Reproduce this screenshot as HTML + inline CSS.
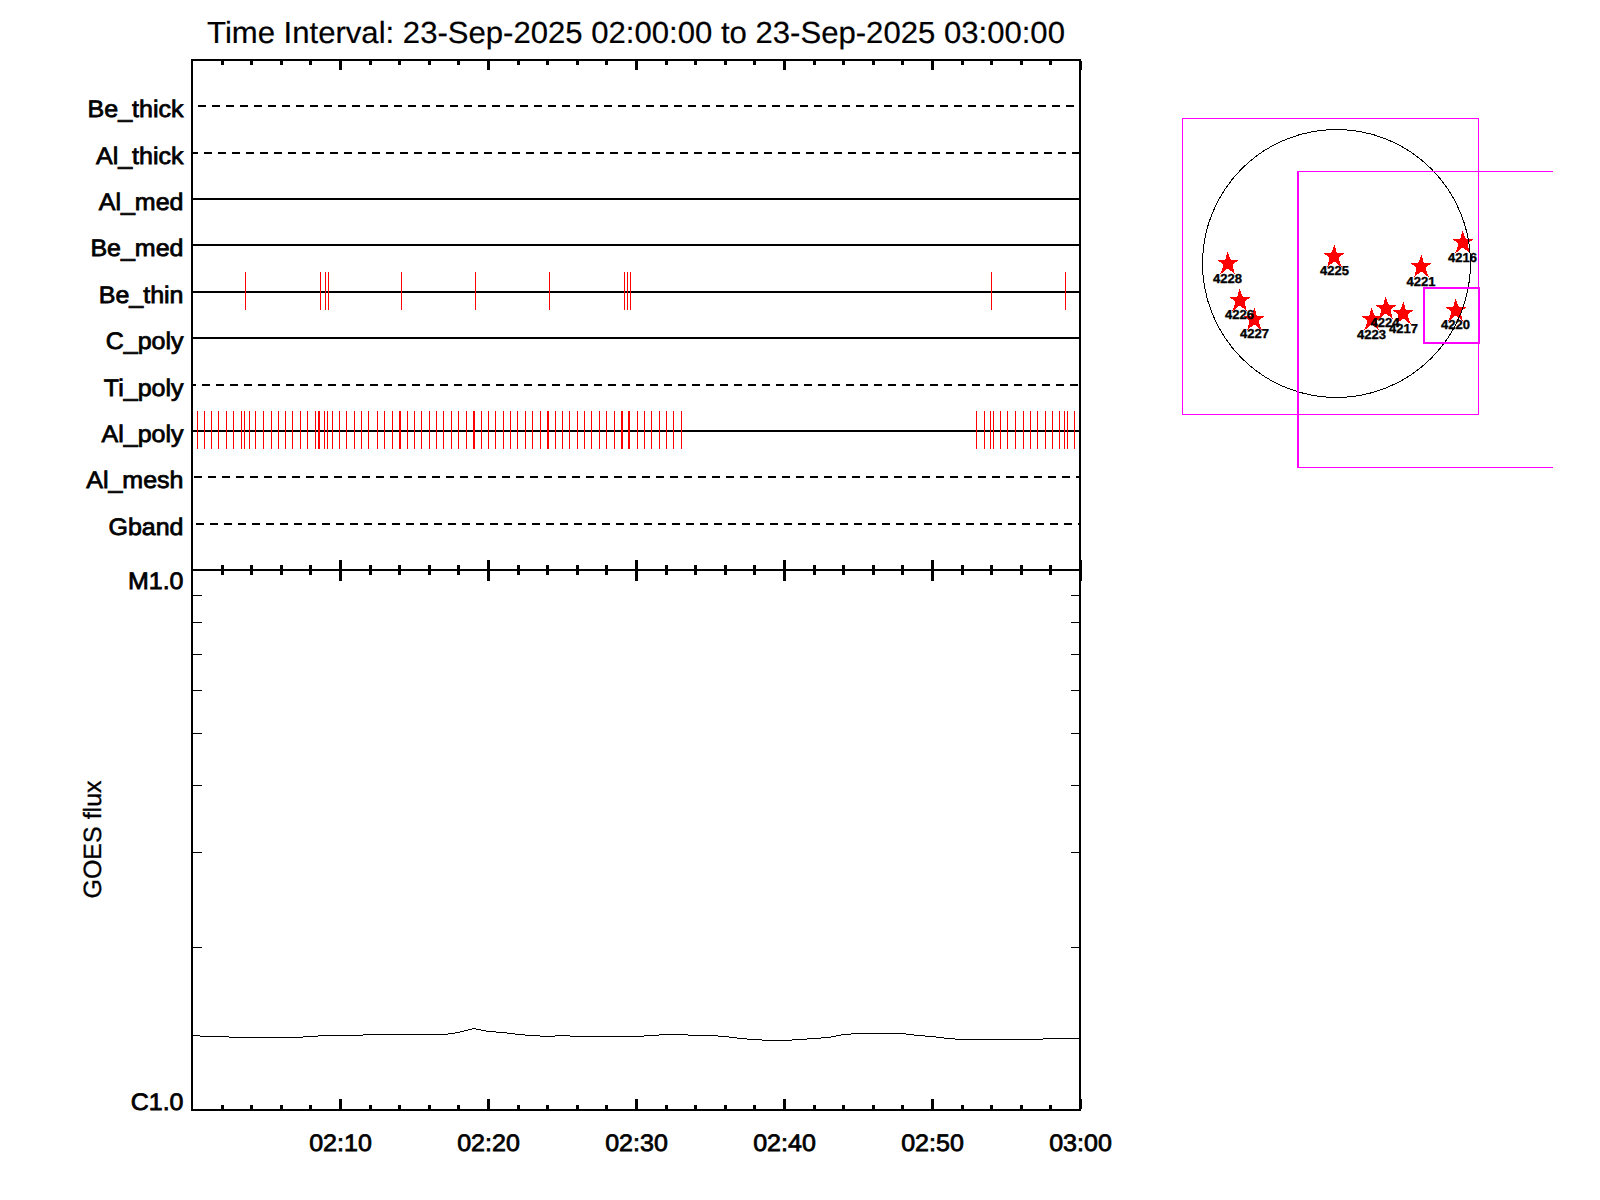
<!DOCTYPE html>
<html lang="en"><head><meta charset="utf-8"><title>Time Interval: 23-Sep-2025 02:00:00 to 23-Sep-2025 03:00:00</title>
<style>html,body{margin:0;padding:0;background:#fff}svg{display:block}text{font-family:"Liberation Sans",Arial,Helvetica,sans-serif;fill:#000;text-rendering:geometricPrecision}</style></head><body>
<svg width="1600" height="1200" viewBox="0 0 1600 1200">
<rect width="1600" height="1200" fill="#fff"/>
<g shape-rendering="crispEdges" fill="#000">
<rect x="191" y="59" width="2" height="1052"/>
<rect x="1079" y="59" width="2" height="1052"/>
<rect x="191" y="59" width="890" height="2"/>
<rect x="191" y="569" width="890" height="2"/>
<rect x="191" y="1109" width="890" height="2"/>
<rect x="221" y="61" width="3" height="4"/>
<rect x="221" y="565" width="3" height="10"/>
<rect x="221" y="1105" width="3" height="4"/>
<rect x="250" y="61" width="3" height="4"/>
<rect x="250" y="565" width="3" height="10"/>
<rect x="250" y="1105" width="3" height="4"/>
<rect x="280" y="61" width="3" height="4"/>
<rect x="280" y="565" width="3" height="10"/>
<rect x="280" y="1105" width="3" height="4"/>
<rect x="309" y="61" width="3" height="4"/>
<rect x="309" y="565" width="3" height="10"/>
<rect x="309" y="1105" width="3" height="4"/>
<rect x="339" y="61" width="3" height="9"/>
<rect x="339" y="560" width="3" height="21"/>
<rect x="339" y="1099" width="3" height="10"/>
<rect x="369" y="61" width="3" height="4"/>
<rect x="369" y="565" width="3" height="10"/>
<rect x="369" y="1105" width="3" height="4"/>
<rect x="398" y="61" width="3" height="4"/>
<rect x="398" y="565" width="3" height="10"/>
<rect x="398" y="1105" width="3" height="4"/>
<rect x="428" y="61" width="3" height="4"/>
<rect x="428" y="565" width="3" height="10"/>
<rect x="428" y="1105" width="3" height="4"/>
<rect x="457" y="61" width="3" height="4"/>
<rect x="457" y="565" width="3" height="10"/>
<rect x="457" y="1105" width="3" height="4"/>
<rect x="487" y="61" width="3" height="9"/>
<rect x="487" y="560" width="3" height="21"/>
<rect x="487" y="1099" width="3" height="10"/>
<rect x="517" y="61" width="3" height="4"/>
<rect x="517" y="565" width="3" height="10"/>
<rect x="517" y="1105" width="3" height="4"/>
<rect x="546" y="61" width="3" height="4"/>
<rect x="546" y="565" width="3" height="10"/>
<rect x="546" y="1105" width="3" height="4"/>
<rect x="576" y="61" width="3" height="4"/>
<rect x="576" y="565" width="3" height="10"/>
<rect x="576" y="1105" width="3" height="4"/>
<rect x="605" y="61" width="3" height="4"/>
<rect x="605" y="565" width="3" height="10"/>
<rect x="605" y="1105" width="3" height="4"/>
<rect x="635" y="61" width="3" height="9"/>
<rect x="635" y="560" width="3" height="21"/>
<rect x="635" y="1099" width="3" height="10"/>
<rect x="665" y="61" width="3" height="4"/>
<rect x="665" y="565" width="3" height="10"/>
<rect x="665" y="1105" width="3" height="4"/>
<rect x="694" y="61" width="3" height="4"/>
<rect x="694" y="565" width="3" height="10"/>
<rect x="694" y="1105" width="3" height="4"/>
<rect x="724" y="61" width="3" height="4"/>
<rect x="724" y="565" width="3" height="10"/>
<rect x="724" y="1105" width="3" height="4"/>
<rect x="753" y="61" width="3" height="4"/>
<rect x="753" y="565" width="3" height="10"/>
<rect x="753" y="1105" width="3" height="4"/>
<rect x="783" y="61" width="3" height="9"/>
<rect x="783" y="560" width="3" height="21"/>
<rect x="783" y="1099" width="3" height="10"/>
<rect x="813" y="61" width="3" height="4"/>
<rect x="813" y="565" width="3" height="10"/>
<rect x="813" y="1105" width="3" height="4"/>
<rect x="842" y="61" width="3" height="4"/>
<rect x="842" y="565" width="3" height="10"/>
<rect x="842" y="1105" width="3" height="4"/>
<rect x="872" y="61" width="3" height="4"/>
<rect x="872" y="565" width="3" height="10"/>
<rect x="872" y="1105" width="3" height="4"/>
<rect x="901" y="61" width="3" height="4"/>
<rect x="901" y="565" width="3" height="10"/>
<rect x="901" y="1105" width="3" height="4"/>
<rect x="931" y="61" width="3" height="9"/>
<rect x="931" y="560" width="3" height="21"/>
<rect x="931" y="1099" width="3" height="10"/>
<rect x="961" y="61" width="3" height="4"/>
<rect x="961" y="565" width="3" height="10"/>
<rect x="961" y="1105" width="3" height="4"/>
<rect x="990" y="61" width="3" height="4"/>
<rect x="990" y="565" width="3" height="10"/>
<rect x="990" y="1105" width="3" height="4"/>
<rect x="1020" y="61" width="3" height="4"/>
<rect x="1020" y="565" width="3" height="10"/>
<rect x="1020" y="1105" width="3" height="4"/>
<rect x="1049" y="61" width="3" height="4"/>
<rect x="1049" y="565" width="3" height="10"/>
<rect x="1049" y="1105" width="3" height="4"/>
<rect x="1079" y="61" width="3" height="9"/>
<rect x="1079" y="560" width="3" height="21"/>
<rect x="1079" y="1099" width="3" height="10"/>
<rect x="198" y="105" width="8" height="2"/>
<rect x="212" y="105" width="8" height="2"/>
<rect x="226" y="105" width="8" height="2"/>
<rect x="240" y="105" width="8" height="2"/>
<rect x="254" y="105" width="8" height="2"/>
<rect x="268" y="105" width="8" height="2"/>
<rect x="282" y="105" width="8" height="2"/>
<rect x="296" y="105" width="8" height="2"/>
<rect x="310" y="105" width="8" height="2"/>
<rect x="324" y="105" width="8" height="2"/>
<rect x="338" y="105" width="8" height="2"/>
<rect x="352" y="105" width="8" height="2"/>
<rect x="366" y="105" width="8" height="2"/>
<rect x="380" y="105" width="8" height="2"/>
<rect x="394" y="105" width="8" height="2"/>
<rect x="408" y="105" width="8" height="2"/>
<rect x="422" y="105" width="8" height="2"/>
<rect x="436" y="105" width="8" height="2"/>
<rect x="450" y="105" width="8" height="2"/>
<rect x="464" y="105" width="8" height="2"/>
<rect x="478" y="105" width="8" height="2"/>
<rect x="492" y="105" width="8" height="2"/>
<rect x="506" y="105" width="8" height="2"/>
<rect x="520" y="105" width="8" height="2"/>
<rect x="534" y="105" width="8" height="2"/>
<rect x="548" y="105" width="8" height="2"/>
<rect x="562" y="105" width="8" height="2"/>
<rect x="576" y="105" width="8" height="2"/>
<rect x="590" y="105" width="8" height="2"/>
<rect x="604" y="105" width="8" height="2"/>
<rect x="618" y="105" width="8" height="2"/>
<rect x="632" y="105" width="8" height="2"/>
<rect x="646" y="105" width="8" height="2"/>
<rect x="660" y="105" width="8" height="2"/>
<rect x="674" y="105" width="8" height="2"/>
<rect x="688" y="105" width="8" height="2"/>
<rect x="702" y="105" width="8" height="2"/>
<rect x="716" y="105" width="8" height="2"/>
<rect x="730" y="105" width="8" height="2"/>
<rect x="744" y="105" width="8" height="2"/>
<rect x="758" y="105" width="8" height="2"/>
<rect x="772" y="105" width="8" height="2"/>
<rect x="786" y="105" width="8" height="2"/>
<rect x="800" y="105" width="8" height="2"/>
<rect x="814" y="105" width="8" height="2"/>
<rect x="828" y="105" width="8" height="2"/>
<rect x="842" y="105" width="8" height="2"/>
<rect x="856" y="105" width="8" height="2"/>
<rect x="870" y="105" width="8" height="2"/>
<rect x="884" y="105" width="8" height="2"/>
<rect x="898" y="105" width="8" height="2"/>
<rect x="912" y="105" width="8" height="2"/>
<rect x="926" y="105" width="8" height="2"/>
<rect x="940" y="105" width="8" height="2"/>
<rect x="954" y="105" width="8" height="2"/>
<rect x="968" y="105" width="8" height="2"/>
<rect x="982" y="105" width="8" height="2"/>
<rect x="996" y="105" width="8" height="2"/>
<rect x="1010" y="105" width="8" height="2"/>
<rect x="1024" y="105" width="8" height="2"/>
<rect x="1038" y="105" width="8" height="2"/>
<rect x="1052" y="105" width="8" height="2"/>
<rect x="1066" y="105" width="8" height="2"/>
<rect x="193" y="152" width="5" height="2"/>
<rect x="204" y="152" width="8" height="2"/>
<rect x="218" y="152" width="8" height="2"/>
<rect x="232" y="152" width="8" height="2"/>
<rect x="246" y="152" width="8" height="2"/>
<rect x="260" y="152" width="8" height="2"/>
<rect x="274" y="152" width="8" height="2"/>
<rect x="288" y="152" width="8" height="2"/>
<rect x="302" y="152" width="8" height="2"/>
<rect x="316" y="152" width="8" height="2"/>
<rect x="330" y="152" width="8" height="2"/>
<rect x="344" y="152" width="8" height="2"/>
<rect x="358" y="152" width="8" height="2"/>
<rect x="372" y="152" width="8" height="2"/>
<rect x="386" y="152" width="8" height="2"/>
<rect x="400" y="152" width="8" height="2"/>
<rect x="414" y="152" width="8" height="2"/>
<rect x="428" y="152" width="8" height="2"/>
<rect x="442" y="152" width="8" height="2"/>
<rect x="456" y="152" width="8" height="2"/>
<rect x="470" y="152" width="8" height="2"/>
<rect x="484" y="152" width="8" height="2"/>
<rect x="498" y="152" width="8" height="2"/>
<rect x="512" y="152" width="8" height="2"/>
<rect x="526" y="152" width="8" height="2"/>
<rect x="540" y="152" width="8" height="2"/>
<rect x="554" y="152" width="8" height="2"/>
<rect x="568" y="152" width="8" height="2"/>
<rect x="582" y="152" width="8" height="2"/>
<rect x="596" y="152" width="8" height="2"/>
<rect x="610" y="152" width="8" height="2"/>
<rect x="624" y="152" width="8" height="2"/>
<rect x="638" y="152" width="8" height="2"/>
<rect x="652" y="152" width="8" height="2"/>
<rect x="666" y="152" width="8" height="2"/>
<rect x="680" y="152" width="8" height="2"/>
<rect x="694" y="152" width="8" height="2"/>
<rect x="708" y="152" width="8" height="2"/>
<rect x="722" y="152" width="8" height="2"/>
<rect x="736" y="152" width="8" height="2"/>
<rect x="750" y="152" width="8" height="2"/>
<rect x="764" y="152" width="8" height="2"/>
<rect x="778" y="152" width="8" height="2"/>
<rect x="792" y="152" width="8" height="2"/>
<rect x="806" y="152" width="8" height="2"/>
<rect x="820" y="152" width="8" height="2"/>
<rect x="834" y="152" width="8" height="2"/>
<rect x="848" y="152" width="8" height="2"/>
<rect x="862" y="152" width="8" height="2"/>
<rect x="876" y="152" width="8" height="2"/>
<rect x="890" y="152" width="8" height="2"/>
<rect x="904" y="152" width="8" height="2"/>
<rect x="918" y="152" width="8" height="2"/>
<rect x="932" y="152" width="8" height="2"/>
<rect x="946" y="152" width="8" height="2"/>
<rect x="960" y="152" width="8" height="2"/>
<rect x="974" y="152" width="8" height="2"/>
<rect x="988" y="152" width="8" height="2"/>
<rect x="1002" y="152" width="8" height="2"/>
<rect x="1016" y="152" width="8" height="2"/>
<rect x="1030" y="152" width="8" height="2"/>
<rect x="1044" y="152" width="8" height="2"/>
<rect x="1058" y="152" width="8" height="2"/>
<rect x="1072" y="152" width="7" height="2"/>
<rect x="193" y="198" width="886" height="2"/>
<rect x="193" y="244" width="886" height="2"/>
<rect x="193" y="291" width="886" height="2"/>
<rect x="193" y="337" width="886" height="2"/>
<rect x="193" y="384" width="3" height="2"/>
<rect x="202" y="384" width="8" height="2"/>
<rect x="216" y="384" width="8" height="2"/>
<rect x="230" y="384" width="8" height="2"/>
<rect x="244" y="384" width="8" height="2"/>
<rect x="258" y="384" width="8" height="2"/>
<rect x="272" y="384" width="8" height="2"/>
<rect x="286" y="384" width="8" height="2"/>
<rect x="300" y="384" width="8" height="2"/>
<rect x="314" y="384" width="8" height="2"/>
<rect x="328" y="384" width="8" height="2"/>
<rect x="342" y="384" width="8" height="2"/>
<rect x="356" y="384" width="8" height="2"/>
<rect x="370" y="384" width="8" height="2"/>
<rect x="384" y="384" width="8" height="2"/>
<rect x="398" y="384" width="8" height="2"/>
<rect x="412" y="384" width="8" height="2"/>
<rect x="426" y="384" width="8" height="2"/>
<rect x="440" y="384" width="8" height="2"/>
<rect x="454" y="384" width="8" height="2"/>
<rect x="468" y="384" width="8" height="2"/>
<rect x="482" y="384" width="8" height="2"/>
<rect x="496" y="384" width="8" height="2"/>
<rect x="510" y="384" width="8" height="2"/>
<rect x="524" y="384" width="8" height="2"/>
<rect x="538" y="384" width="8" height="2"/>
<rect x="552" y="384" width="8" height="2"/>
<rect x="566" y="384" width="8" height="2"/>
<rect x="580" y="384" width="8" height="2"/>
<rect x="594" y="384" width="8" height="2"/>
<rect x="608" y="384" width="8" height="2"/>
<rect x="622" y="384" width="8" height="2"/>
<rect x="636" y="384" width="8" height="2"/>
<rect x="650" y="384" width="8" height="2"/>
<rect x="664" y="384" width="8" height="2"/>
<rect x="678" y="384" width="8" height="2"/>
<rect x="692" y="384" width="8" height="2"/>
<rect x="706" y="384" width="8" height="2"/>
<rect x="720" y="384" width="8" height="2"/>
<rect x="734" y="384" width="8" height="2"/>
<rect x="748" y="384" width="8" height="2"/>
<rect x="762" y="384" width="8" height="2"/>
<rect x="776" y="384" width="8" height="2"/>
<rect x="790" y="384" width="8" height="2"/>
<rect x="804" y="384" width="8" height="2"/>
<rect x="818" y="384" width="8" height="2"/>
<rect x="832" y="384" width="8" height="2"/>
<rect x="846" y="384" width="8" height="2"/>
<rect x="860" y="384" width="8" height="2"/>
<rect x="874" y="384" width="8" height="2"/>
<rect x="888" y="384" width="8" height="2"/>
<rect x="902" y="384" width="8" height="2"/>
<rect x="916" y="384" width="8" height="2"/>
<rect x="930" y="384" width="8" height="2"/>
<rect x="944" y="384" width="8" height="2"/>
<rect x="958" y="384" width="8" height="2"/>
<rect x="972" y="384" width="8" height="2"/>
<rect x="986" y="384" width="8" height="2"/>
<rect x="1000" y="384" width="8" height="2"/>
<rect x="1014" y="384" width="8" height="2"/>
<rect x="1028" y="384" width="8" height="2"/>
<rect x="1042" y="384" width="8" height="2"/>
<rect x="1056" y="384" width="8" height="2"/>
<rect x="1070" y="384" width="8" height="2"/>
<rect x="193" y="430" width="886" height="2"/>
<rect x="194" y="476" width="8" height="2"/>
<rect x="208" y="476" width="8" height="2"/>
<rect x="222" y="476" width="8" height="2"/>
<rect x="236" y="476" width="8" height="2"/>
<rect x="250" y="476" width="8" height="2"/>
<rect x="264" y="476" width="8" height="2"/>
<rect x="278" y="476" width="8" height="2"/>
<rect x="292" y="476" width="8" height="2"/>
<rect x="306" y="476" width="8" height="2"/>
<rect x="320" y="476" width="8" height="2"/>
<rect x="334" y="476" width="8" height="2"/>
<rect x="348" y="476" width="8" height="2"/>
<rect x="362" y="476" width="8" height="2"/>
<rect x="376" y="476" width="8" height="2"/>
<rect x="390" y="476" width="8" height="2"/>
<rect x="404" y="476" width="8" height="2"/>
<rect x="418" y="476" width="8" height="2"/>
<rect x="432" y="476" width="8" height="2"/>
<rect x="446" y="476" width="8" height="2"/>
<rect x="460" y="476" width="8" height="2"/>
<rect x="474" y="476" width="8" height="2"/>
<rect x="488" y="476" width="8" height="2"/>
<rect x="502" y="476" width="8" height="2"/>
<rect x="516" y="476" width="8" height="2"/>
<rect x="530" y="476" width="8" height="2"/>
<rect x="544" y="476" width="8" height="2"/>
<rect x="558" y="476" width="8" height="2"/>
<rect x="572" y="476" width="8" height="2"/>
<rect x="586" y="476" width="8" height="2"/>
<rect x="600" y="476" width="8" height="2"/>
<rect x="614" y="476" width="8" height="2"/>
<rect x="628" y="476" width="8" height="2"/>
<rect x="642" y="476" width="8" height="2"/>
<rect x="656" y="476" width="8" height="2"/>
<rect x="670" y="476" width="8" height="2"/>
<rect x="684" y="476" width="8" height="2"/>
<rect x="698" y="476" width="8" height="2"/>
<rect x="712" y="476" width="8" height="2"/>
<rect x="726" y="476" width="8" height="2"/>
<rect x="740" y="476" width="8" height="2"/>
<rect x="754" y="476" width="8" height="2"/>
<rect x="768" y="476" width="8" height="2"/>
<rect x="782" y="476" width="8" height="2"/>
<rect x="796" y="476" width="8" height="2"/>
<rect x="810" y="476" width="8" height="2"/>
<rect x="824" y="476" width="8" height="2"/>
<rect x="838" y="476" width="8" height="2"/>
<rect x="852" y="476" width="8" height="2"/>
<rect x="866" y="476" width="8" height="2"/>
<rect x="880" y="476" width="8" height="2"/>
<rect x="894" y="476" width="8" height="2"/>
<rect x="908" y="476" width="8" height="2"/>
<rect x="922" y="476" width="8" height="2"/>
<rect x="936" y="476" width="8" height="2"/>
<rect x="950" y="476" width="8" height="2"/>
<rect x="964" y="476" width="8" height="2"/>
<rect x="978" y="476" width="8" height="2"/>
<rect x="992" y="476" width="8" height="2"/>
<rect x="1006" y="476" width="8" height="2"/>
<rect x="1020" y="476" width="8" height="2"/>
<rect x="1034" y="476" width="8" height="2"/>
<rect x="1048" y="476" width="8" height="2"/>
<rect x="1062" y="476" width="8" height="2"/>
<rect x="1076" y="476" width="3" height="2"/>
<rect x="196" y="523" width="8" height="2"/>
<rect x="210" y="523" width="8" height="2"/>
<rect x="224" y="523" width="8" height="2"/>
<rect x="238" y="523" width="8" height="2"/>
<rect x="252" y="523" width="8" height="2"/>
<rect x="266" y="523" width="8" height="2"/>
<rect x="280" y="523" width="8" height="2"/>
<rect x="294" y="523" width="8" height="2"/>
<rect x="308" y="523" width="8" height="2"/>
<rect x="322" y="523" width="8" height="2"/>
<rect x="336" y="523" width="8" height="2"/>
<rect x="350" y="523" width="8" height="2"/>
<rect x="364" y="523" width="8" height="2"/>
<rect x="378" y="523" width="8" height="2"/>
<rect x="392" y="523" width="8" height="2"/>
<rect x="406" y="523" width="8" height="2"/>
<rect x="420" y="523" width="8" height="2"/>
<rect x="434" y="523" width="8" height="2"/>
<rect x="448" y="523" width="8" height="2"/>
<rect x="462" y="523" width="8" height="2"/>
<rect x="476" y="523" width="8" height="2"/>
<rect x="490" y="523" width="8" height="2"/>
<rect x="504" y="523" width="8" height="2"/>
<rect x="518" y="523" width="8" height="2"/>
<rect x="532" y="523" width="8" height="2"/>
<rect x="546" y="523" width="8" height="2"/>
<rect x="560" y="523" width="8" height="2"/>
<rect x="574" y="523" width="8" height="2"/>
<rect x="588" y="523" width="8" height="2"/>
<rect x="602" y="523" width="8" height="2"/>
<rect x="616" y="523" width="8" height="2"/>
<rect x="630" y="523" width="8" height="2"/>
<rect x="644" y="523" width="8" height="2"/>
<rect x="658" y="523" width="8" height="2"/>
<rect x="672" y="523" width="8" height="2"/>
<rect x="686" y="523" width="8" height="2"/>
<rect x="700" y="523" width="8" height="2"/>
<rect x="714" y="523" width="8" height="2"/>
<rect x="728" y="523" width="8" height="2"/>
<rect x="742" y="523" width="8" height="2"/>
<rect x="756" y="523" width="8" height="2"/>
<rect x="770" y="523" width="8" height="2"/>
<rect x="784" y="523" width="8" height="2"/>
<rect x="798" y="523" width="8" height="2"/>
<rect x="812" y="523" width="8" height="2"/>
<rect x="826" y="523" width="8" height="2"/>
<rect x="840" y="523" width="8" height="2"/>
<rect x="854" y="523" width="8" height="2"/>
<rect x="868" y="523" width="8" height="2"/>
<rect x="882" y="523" width="8" height="2"/>
<rect x="896" y="523" width="8" height="2"/>
<rect x="910" y="523" width="8" height="2"/>
<rect x="924" y="523" width="8" height="2"/>
<rect x="938" y="523" width="8" height="2"/>
<rect x="952" y="523" width="8" height="2"/>
<rect x="966" y="523" width="8" height="2"/>
<rect x="980" y="523" width="8" height="2"/>
<rect x="994" y="523" width="8" height="2"/>
<rect x="1008" y="523" width="8" height="2"/>
<rect x="1022" y="523" width="8" height="2"/>
<rect x="1036" y="523" width="8" height="2"/>
<rect x="1050" y="523" width="8" height="2"/>
<rect x="1064" y="523" width="8" height="2"/>
<rect x="1078" y="523" width="1" height="2"/>
<rect x="193" y="595" width="9" height="1"/>
<rect x="1071" y="595" width="8" height="1"/>
<rect x="193" y="622" width="9" height="1"/>
<rect x="1071" y="622" width="8" height="1"/>
<rect x="193" y="654" width="9" height="1"/>
<rect x="1071" y="654" width="8" height="1"/>
<rect x="193" y="690" width="9" height="1"/>
<rect x="1071" y="690" width="8" height="1"/>
<rect x="193" y="733" width="9" height="1"/>
<rect x="1071" y="733" width="8" height="1"/>
<rect x="193" y="785" width="9" height="1"/>
<rect x="1071" y="785" width="8" height="1"/>
<rect x="193" y="852" width="9" height="1"/>
<rect x="1071" y="852" width="8" height="1"/>
<rect x="193" y="947" width="9" height="1"/>
<rect x="1071" y="947" width="8" height="1"/>
</g>
<g shape-rendering="crispEdges" fill="#f00">
<rect x="245" y="272" width="1" height="38"/>
<rect x="320" y="272" width="1" height="38"/>
<rect x="325" y="272" width="1" height="38"/>
<rect x="328" y="272" width="1" height="38"/>
<rect x="401" y="272" width="1" height="38"/>
<rect x="475" y="272" width="1" height="38"/>
<rect x="549" y="272" width="1" height="38"/>
<rect x="624" y="272" width="1" height="38"/>
<rect x="627" y="272" width="1" height="38"/>
<rect x="630" y="272" width="1" height="38"/>
<rect x="991" y="272" width="1" height="38"/>
<rect x="1065" y="272" width="1" height="38"/>
<rect x="197" y="411" width="1" height="38"/>
<rect x="204" y="411" width="1" height="38"/>
<rect x="211" y="411" width="1" height="38"/>
<rect x="218" y="411" width="1" height="38"/>
<rect x="226" y="411" width="1" height="38"/>
<rect x="233" y="411" width="1" height="38"/>
<rect x="241" y="411" width="1" height="38"/>
<rect x="244" y="411" width="1" height="38"/>
<rect x="249" y="411" width="1" height="38"/>
<rect x="255" y="411" width="1" height="38"/>
<rect x="263" y="411" width="1" height="38"/>
<rect x="271" y="411" width="1" height="38"/>
<rect x="278" y="411" width="1" height="38"/>
<rect x="285" y="411" width="1" height="38"/>
<rect x="292" y="411" width="1" height="38"/>
<rect x="300" y="411" width="1" height="38"/>
<rect x="307" y="411" width="1" height="38"/>
<rect x="315" y="411" width="1" height="38"/>
<rect x="318" y="411" width="1" height="38"/>
<rect x="319" y="411" width="1" height="38"/>
<rect x="324" y="411" width="1" height="38"/>
<rect x="327" y="411" width="1" height="38"/>
<rect x="332" y="411" width="1" height="38"/>
<rect x="339" y="411" width="1" height="38"/>
<rect x="346" y="411" width="1" height="38"/>
<rect x="354" y="411" width="1" height="38"/>
<rect x="361" y="411" width="1" height="38"/>
<rect x="368" y="411" width="1" height="38"/>
<rect x="377" y="411" width="1" height="38"/>
<rect x="384" y="411" width="1" height="38"/>
<rect x="392" y="411" width="1" height="38"/>
<rect x="399" y="411" width="1" height="38"/>
<rect x="400" y="411" width="1" height="38"/>
<rect x="407" y="411" width="1" height="38"/>
<rect x="414" y="411" width="1" height="38"/>
<rect x="421" y="411" width="1" height="38"/>
<rect x="429" y="411" width="1" height="38"/>
<rect x="436" y="411" width="1" height="38"/>
<rect x="443" y="411" width="1" height="38"/>
<rect x="451" y="411" width="1" height="38"/>
<rect x="458" y="411" width="1" height="38"/>
<rect x="466" y="411" width="1" height="38"/>
<rect x="473" y="411" width="1" height="38"/>
<rect x="474" y="411" width="1" height="38"/>
<rect x="481" y="411" width="1" height="38"/>
<rect x="488" y="411" width="1" height="38"/>
<rect x="495" y="411" width="1" height="38"/>
<rect x="503" y="411" width="1" height="38"/>
<rect x="510" y="411" width="1" height="38"/>
<rect x="517" y="411" width="1" height="38"/>
<rect x="525" y="411" width="1" height="38"/>
<rect x="532" y="411" width="1" height="38"/>
<rect x="540" y="411" width="1" height="38"/>
<rect x="547" y="411" width="1" height="38"/>
<rect x="548" y="411" width="1" height="38"/>
<rect x="555" y="411" width="1" height="38"/>
<rect x="562" y="411" width="1" height="38"/>
<rect x="569" y="411" width="1" height="38"/>
<rect x="577" y="411" width="1" height="38"/>
<rect x="584" y="411" width="1" height="38"/>
<rect x="591" y="411" width="1" height="38"/>
<rect x="599" y="411" width="1" height="38"/>
<rect x="606" y="411" width="1" height="38"/>
<rect x="614" y="411" width="1" height="38"/>
<rect x="621" y="411" width="1" height="38"/>
<rect x="622" y="411" width="1" height="38"/>
<rect x="628" y="411" width="1" height="38"/>
<rect x="629" y="411" width="1" height="38"/>
<rect x="637" y="411" width="1" height="38"/>
<rect x="644" y="411" width="1" height="38"/>
<rect x="651" y="411" width="1" height="38"/>
<rect x="659" y="411" width="1" height="38"/>
<rect x="666" y="411" width="1" height="38"/>
<rect x="673" y="411" width="1" height="38"/>
<rect x="681" y="411" width="1" height="38"/>
<rect x="976" y="411" width="1" height="38"/>
<rect x="984" y="411" width="1" height="38"/>
<rect x="990" y="411" width="1" height="38"/>
<rect x="993" y="411" width="1" height="38"/>
<rect x="1000" y="411" width="1" height="38"/>
<rect x="1007" y="411" width="1" height="38"/>
<rect x="1015" y="411" width="1" height="38"/>
<rect x="1023" y="411" width="1" height="38"/>
<rect x="1030" y="411" width="1" height="38"/>
<rect x="1037" y="411" width="1" height="38"/>
<rect x="1045" y="411" width="1" height="38"/>
<rect x="1052" y="411" width="1" height="38"/>
<rect x="1059" y="411" width="1" height="38"/>
<rect x="1064" y="411" width="1" height="38"/>
<rect x="1067" y="411" width="1" height="38"/>
<rect x="1074" y="411" width="1" height="38"/>
</g>
<g shape-rendering="crispEdges" fill="#000">
<rect x="193" y="1035" width="7" height="1"/>
<rect x="200" y="1036" width="29" height="1"/>
<rect x="229" y="1037" width="74" height="1"/>
<rect x="303" y="1036" width="15" height="1"/>
<rect x="318" y="1035" width="45" height="1"/>
<rect x="363" y="1034" width="85" height="1"/>
<rect x="448" y="1033" width="7" height="1"/>
<rect x="455" y="1032" width="5" height="1"/>
<rect x="460" y="1031" width="4" height="1"/>
<rect x="464" y="1030" width="4" height="1"/>
<rect x="468" y="1029" width="4" height="1"/>
<rect x="472" y="1028" width="4" height="1"/>
<rect x="476" y="1029" width="5" height="1"/>
<rect x="481" y="1030" width="5" height="1"/>
<rect x="486" y="1031" width="10" height="1"/>
<rect x="496" y="1032" width="11" height="1"/>
<rect x="507" y="1033" width="8" height="1"/>
<rect x="515" y="1034" width="10" height="1"/>
<rect x="525" y="1035" width="15" height="1"/>
<rect x="540" y="1036" width="15" height="1"/>
<rect x="555" y="1035" width="15" height="1"/>
<rect x="570" y="1036" width="74" height="1"/>
<rect x="644" y="1035" width="15" height="1"/>
<rect x="659" y="1034" width="29" height="1"/>
<rect x="688" y="1035" width="30" height="1"/>
<rect x="718" y="1036" width="11" height="1"/>
<rect x="729" y="1037" width="8" height="1"/>
<rect x="737" y="1038" width="10" height="1"/>
<rect x="747" y="1039" width="15" height="1"/>
<rect x="762" y="1040" width="30" height="1"/>
<rect x="792" y="1039" width="15" height="1"/>
<rect x="807" y="1038" width="14" height="1"/>
<rect x="821" y="1037" width="10" height="1"/>
<rect x="831" y="1036" width="5" height="1"/>
<rect x="836" y="1035" width="5" height="1"/>
<rect x="841" y="1034" width="10" height="1"/>
<rect x="851" y="1033" width="55" height="1"/>
<rect x="906" y="1034" width="8" height="1"/>
<rect x="914" y="1035" width="11" height="1"/>
<rect x="925" y="1036" width="11" height="1"/>
<rect x="936" y="1037" width="8" height="1"/>
<rect x="944" y="1038" width="11" height="1"/>
<rect x="955" y="1039" width="88" height="1"/>
<rect x="1043" y="1038" width="36" height="1"/>
</g>
<g fill="#f00" shape-rendering="crispEdges">
<path transform="translate(1462,231)" d="M0 0h1v1h-1zM0 1h1v1h-1zM0 2h2v1h-2zM-1 3h3v1h-3zM-1 4h3v1h-3zM-1 5h4v1h-4zM-1 6h4v1h-4zM-2 7h6v1h-6zM-9 8h20v1h-20zM-8 9h18v1h-18zM-6 10h14v1h-14zM-5 11h12v1h-12zM-4 12h10v1h-10zM-4 13h10v1h-10zM-4 14h10v1h-10zM-4 15h10v1h-10zM-5 16h11v1h-11zM2 17h5v1h-5zM-5 17h4v1h-4zM3 18h4v1h-4zM-5 18h3v1h-3zM5 19h2v1h-2zM-6 19h3v1h-3zM6 20h1v1h-1zM-6 20h2v1h-2zM7 21h1v1h-1zM-7 21h1v1h-1z"/>
<path transform="translate(1403,302)" d="M0 0h1v1h-1zM0 1h1v1h-1zM-1 2h2v1h-2zM-1 3h3v1h-3zM-1 4h3v1h-3zM-2 5h4v1h-4zM-2 6h4v1h-4zM-3 7h6v1h-6zM-10 8h20v1h-20zM-9 9h18v1h-18zM-7 10h14v1h-14zM-6 11h12v1h-12zM-5 12h10v1h-10zM-5 13h10v1h-10zM-5 14h10v1h-10zM-5 15h10v1h-10zM-5 16h11v1h-11zM-6 17h5v1h-5zM2 17h4v1h-4zM-6 18h4v1h-4zM3 18h3v1h-3zM-6 19h2v1h-2zM4 19h3v1h-3zM-6 20h1v1h-1zM5 20h2v1h-2zM-7 21h1v1h-1zM7 21h1v1h-1z"/>
<path transform="translate(1455,299)" d="M0 0h1v1h-1zM0 1h1v1h-1zM0 2h2v1h-2zM-1 3h3v1h-3zM-1 4h3v1h-3zM-1 5h4v1h-4zM-1 6h4v1h-4zM-2 7h6v1h-6zM-9 8h20v1h-20zM-8 9h18v1h-18zM-6 10h14v1h-14zM-5 11h12v1h-12zM-4 12h10v1h-10zM-4 13h10v1h-10zM-4 14h10v1h-10zM-4 15h10v1h-10zM-5 16h11v1h-11zM2 17h5v1h-5zM-5 17h4v1h-4zM3 18h4v1h-4zM-5 18h3v1h-3zM5 19h2v1h-2zM-6 19h3v1h-3zM6 20h1v1h-1zM-6 20h2v1h-2zM7 21h1v1h-1zM-7 21h1v1h-1z"/>
<path transform="translate(1421,255)" d="M0 0h1v1h-1zM0 1h1v1h-1zM-1 2h2v1h-2zM-1 3h3v1h-3zM-1 4h3v1h-3zM-2 5h4v1h-4zM-2 6h4v1h-4zM-3 7h6v1h-6zM-10 8h20v1h-20zM-9 9h18v1h-18zM-7 10h14v1h-14zM-6 11h12v1h-12zM-5 12h10v1h-10zM-5 13h10v1h-10zM-5 14h10v1h-10zM-5 15h10v1h-10zM-5 16h11v1h-11zM-6 17h5v1h-5zM2 17h4v1h-4zM-6 18h4v1h-4zM3 18h3v1h-3zM-6 19h2v1h-2zM4 19h3v1h-3zM-6 20h1v1h-1zM5 20h2v1h-2zM-7 21h1v1h-1zM7 21h1v1h-1z"/>
<path transform="translate(1371,308)" d="M0 0h1v1h-1zM0 1h1v1h-1zM0 2h2v1h-2zM-1 3h3v1h-3zM-1 4h3v1h-3zM-1 5h4v1h-4zM-1 6h4v1h-4zM-2 7h6v1h-6zM-9 8h20v1h-20zM-8 9h18v1h-18zM-6 10h14v1h-14zM-5 11h12v1h-12zM-4 12h10v1h-10zM-4 13h10v1h-10zM-4 14h10v1h-10zM-4 15h10v1h-10zM-5 16h11v1h-11zM2 17h5v1h-5zM-5 17h4v1h-4zM3 18h4v1h-4zM-5 18h3v1h-3zM5 19h2v1h-2zM-6 19h3v1h-3zM6 20h1v1h-1zM-6 20h2v1h-2zM7 21h1v1h-1zM-7 21h1v1h-1z"/>
<path transform="translate(1385,297)" d="M0 0h1v1h-1zM0 1h1v1h-1zM0 2h2v1h-2zM-1 3h3v1h-3zM-1 4h3v1h-3zM-1 5h4v1h-4zM-1 6h4v1h-4zM-2 7h6v1h-6zM-9 8h20v1h-20zM-8 9h18v1h-18zM-6 10h14v1h-14zM-5 11h12v1h-12zM-4 12h10v1h-10zM-4 13h10v1h-10zM-4 14h10v1h-10zM-4 15h10v1h-10zM-5 16h11v1h-11zM2 17h5v1h-5zM-5 17h4v1h-4zM3 18h4v1h-4zM-5 18h3v1h-3zM5 19h2v1h-2zM-6 19h3v1h-3zM6 20h1v1h-1zM-6 20h2v1h-2zM7 21h1v1h-1zM-7 21h1v1h-1z"/>
<path transform="translate(1334,245)" d="M0 0h1v1h-1zM0 1h1v1h-1zM-1 2h2v1h-2zM-1 3h3v1h-3zM-1 4h3v1h-3zM-2 5h4v1h-4zM-2 6h4v1h-4zM-3 7h6v1h-6zM-10 8h20v1h-20zM-9 9h18v1h-18zM-7 10h14v1h-14zM-6 11h12v1h-12zM-5 12h10v1h-10zM-5 13h10v1h-10zM-5 14h10v1h-10zM-5 15h10v1h-10zM-5 16h11v1h-11zM-6 17h5v1h-5zM2 17h4v1h-4zM-6 18h4v1h-4zM3 18h3v1h-3zM-6 19h2v1h-2zM4 19h3v1h-3zM-6 20h1v1h-1zM5 20h2v1h-2zM-7 21h1v1h-1zM7 21h1v1h-1z"/>
<path transform="translate(1239,289)" d="M0 0h1v1h-1zM0 1h1v1h-1zM0 2h2v1h-2zM-1 3h3v1h-3zM-1 4h3v1h-3zM-1 5h4v1h-4zM-1 6h4v1h-4zM-2 7h6v1h-6zM-9 8h20v1h-20zM-8 9h18v1h-18zM-6 10h14v1h-14zM-5 11h12v1h-12zM-4 12h10v1h-10zM-4 13h10v1h-10zM-4 14h10v1h-10zM-4 15h10v1h-10zM-5 16h11v1h-11zM2 17h5v1h-5zM-5 17h4v1h-4zM3 18h4v1h-4zM-5 18h3v1h-3zM5 19h2v1h-2zM-6 19h3v1h-3zM6 20h1v1h-1zM-6 20h2v1h-2zM7 21h1v1h-1zM-7 21h1v1h-1z"/>
<path transform="translate(1254,308)" d="M0 0h1v1h-1zM0 1h1v1h-1zM-1 2h2v1h-2zM-1 3h3v1h-3zM-1 4h3v1h-3zM-2 5h4v1h-4zM-2 6h4v1h-4zM-3 7h6v1h-6zM-10 8h20v1h-20zM-9 9h18v1h-18zM-7 10h14v1h-14zM-6 11h12v1h-12zM-5 12h10v1h-10zM-5 13h10v1h-10zM-5 14h10v1h-10zM-5 15h10v1h-10zM-5 16h11v1h-11zM-6 17h5v1h-5zM2 17h4v1h-4zM-6 18h4v1h-4zM3 18h3v1h-3zM-6 19h2v1h-2zM4 19h3v1h-3zM-6 20h1v1h-1zM5 20h2v1h-2zM-7 21h1v1h-1zM7 21h1v1h-1z"/>
<path transform="translate(1227,252)" d="M0 0h1v1h-1zM0 1h1v1h-1zM0 2h2v1h-2zM-1 3h3v1h-3zM-1 4h3v1h-3zM-1 5h4v1h-4zM-1 6h4v1h-4zM-2 7h6v1h-6zM-9 8h20v1h-20zM-8 9h18v1h-18zM-6 10h14v1h-14zM-5 11h12v1h-12zM-4 12h10v1h-10zM-4 13h10v1h-10zM-4 14h10v1h-10zM-4 15h10v1h-10zM-5 16h11v1h-11zM2 17h5v1h-5zM-5 17h4v1h-4zM3 18h4v1h-4zM-5 18h3v1h-3zM5 19h2v1h-2zM-6 19h3v1h-3zM6 20h1v1h-1zM-6 20h2v1h-2zM7 21h1v1h-1zM-7 21h1v1h-1z"/>
</g>
<circle cx="1336.5" cy="263.5" r="134" fill="none" stroke="#000" stroke-width="1" shape-rendering="crispEdges"/>
<g shape-rendering="crispEdges" fill="none" stroke="#f0f">
<rect x="1182.5" y="118.5" width="296" height="296" stroke-width="1"/>
<rect x="1297" y="171" width="256" height="1" fill="#f0f" stroke="none"/>
<rect x="1297" y="467" width="256" height="1" fill="#f0f" stroke="none"/>
<rect x="1297" y="171" width="2" height="297" fill="#f0f" stroke="none"/>
<rect x="1424" y="288" width="55" height="55" stroke-width="2"/>
</g>
<text transform="translate(1462.5,262)" font-size="13" text-anchor="middle" font-weight="bold" stroke="#000" stroke-width="0.35">4216</text>
<text transform="translate(1403.5,333)" font-size="13" text-anchor="middle" font-weight="bold" stroke="#000" stroke-width="0.35">4217</text>
<text transform="translate(1455.5,329)" font-size="13" text-anchor="middle" font-weight="bold" stroke="#000" stroke-width="0.35">4220</text>
<text transform="translate(1421,286)" font-size="13" text-anchor="middle" font-weight="bold" stroke="#000" stroke-width="0.35">4221</text>
<text transform="translate(1371.5,339)" font-size="13" text-anchor="middle" font-weight="bold" stroke="#000" stroke-width="0.35">4223</text>
<text transform="translate(1385,327)" font-size="13" text-anchor="middle" font-weight="bold" stroke="#000" stroke-width="0.35">4224</text>
<text transform="translate(1334.5,275)" font-size="13" text-anchor="middle" font-weight="bold" stroke="#000" stroke-width="0.35">4225</text>
<text transform="translate(1239.5,319)" font-size="13" text-anchor="middle" font-weight="bold" stroke="#000" stroke-width="0.35">4226</text>
<text transform="translate(1254.5,338)" font-size="13" text-anchor="middle" font-weight="bold" stroke="#000" stroke-width="0.35">4227</text>
<text transform="translate(1227.5,283)" font-size="13" text-anchor="middle" font-weight="bold" stroke="#000" stroke-width="0.35">4228</text>
<text transform="translate(183.5,117) scale(1,0.955)" font-size="25" text-anchor="end" stroke="#000" stroke-width="0.8">Be_thick</text>
<text transform="translate(183.5,164) scale(1,0.955)" font-size="25" text-anchor="end" stroke="#000" stroke-width="0.8">Al_thick</text>
<text transform="translate(183.5,210) scale(1,0.955)" font-size="25" text-anchor="end" stroke="#000" stroke-width="0.8">Al_med</text>
<text transform="translate(183.5,256) scale(1,0.955)" font-size="25" text-anchor="end" stroke="#000" stroke-width="0.8">Be_med</text>
<text transform="translate(183.5,303) scale(1,0.955)" font-size="25" text-anchor="end" stroke="#000" stroke-width="0.8">Be_thin</text>
<text transform="translate(183.5,349) scale(1,0.955)" font-size="25" text-anchor="end" stroke="#000" stroke-width="0.8">C_poly</text>
<text transform="translate(183.5,396) scale(1,0.955)" font-size="25" text-anchor="end" stroke="#000" stroke-width="0.8">Ti_poly</text>
<text transform="translate(183.5,442) scale(1,0.955)" font-size="25" text-anchor="end" stroke="#000" stroke-width="0.8">Al_poly</text>
<text transform="translate(183.5,488) scale(1,0.955)" font-size="25" text-anchor="end" stroke="#000" stroke-width="0.8">Al_mesh</text>
<text transform="translate(183.5,535) scale(1,0.955)" font-size="25" text-anchor="end" stroke="#000" stroke-width="0.8">Gband</text>
<text transform="translate(183.5,589) scale(1,0.955)" font-size="25" text-anchor="end" stroke="#000" stroke-width="0.8">M1.0</text>
<text transform="translate(183.5,1110) scale(1,0.955)" font-size="25" text-anchor="end" stroke="#000" stroke-width="0.8">C1.0</text>
<text transform="translate(340.5,1151.2) scale(1.0,0.955)" font-size="25" text-anchor="middle" stroke="#000" stroke-width="0.8">02:10</text>
<text transform="translate(488.5,1151.2) scale(1.0,0.955)" font-size="25" text-anchor="middle" stroke="#000" stroke-width="0.8">02:20</text>
<text transform="translate(636.5,1151.2) scale(1.0,0.955)" font-size="25" text-anchor="middle" stroke="#000" stroke-width="0.8">02:30</text>
<text transform="translate(784.5,1151.2) scale(1.0,0.955)" font-size="25" text-anchor="middle" stroke="#000" stroke-width="0.8">02:40</text>
<text transform="translate(932.5,1151.2) scale(1.0,0.955)" font-size="25" text-anchor="middle" stroke="#000" stroke-width="0.8">02:50</text>
<text transform="translate(1080.5,1151.2) scale(1.0,0.955)" font-size="25" text-anchor="middle" stroke="#000" stroke-width="0.8">03:00</text>
<text transform="translate(100.7,839.5) rotate(-90)" font-size="25" text-anchor="middle" stroke="#000" stroke-width="0.3">GOES flux</text>
<text transform="translate(636,43) scale(1.0194,1)" font-size="30.5" text-anchor="middle" stroke="#000" stroke-width="0.2">Time Interval: 23-Sep-2025 02:00:00 to 23-Sep-2025 03:00:00</text>
</svg></body></html>
